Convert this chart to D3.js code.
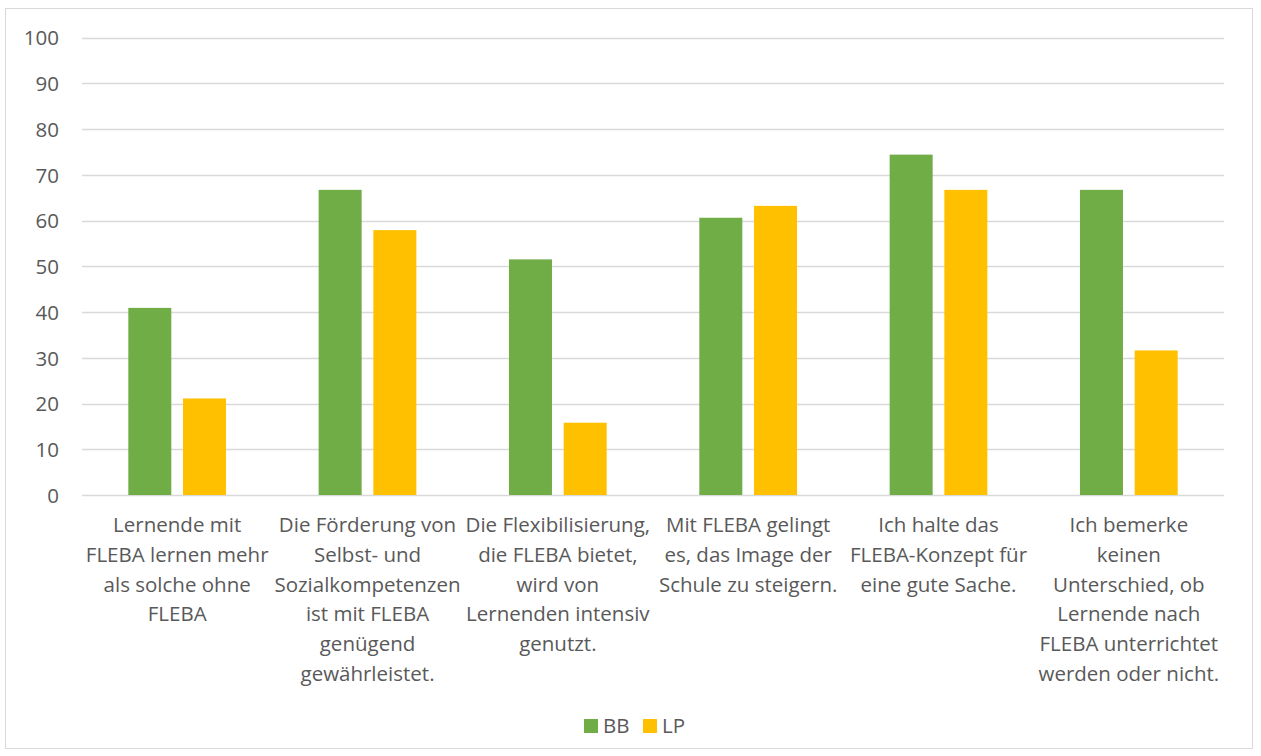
<!DOCTYPE html>
<html><head><meta charset="utf-8">
<script src="https://cdn.jsdelivr.net/npm/d3@7"></script>
<style>body{margin:0;background:#fff}svg{display:block}text{font-family:"Open Sans",sans-serif;fill:#595959}</style>
</head><body><svg id="c" width="1261" height="756"></svg>
<script>
const categories = [
  ["Lernende mit","FLEBA lernen mehr","als solche ohne","FLEBA"],
  ["Die Förderung von","Selbst- und","Sozialkompetenzen","ist mit FLEBA","genügend","gewährleistet."],
  ["Die Flexibilisierung,","die FLEBA bietet,","wird von","Lernenden intensiv","genutzt."],
  ["Mit FLEBA gelingt","es, das Image der","Schule zu steigern."],
  ["Ich halte das","FLEBA-Konzept für","eine gute Sache."],
  ["Ich bemerke","keinen","Unterschied, ob","Lernende nach","FLEBA unterrichtet","werden oder nicht."]
];
const seriesNames = ["BB","LP"];
const bbValues = [40.9, 66.7, 51.5, 60.6, 74.4, 66.7];
const lpValues = [21.1, 57.9, 15.8, 63.2, 66.7, 31.6];
const yTicks = [0,10,20,30,40,50,60,70,80,90,100];
const colors = ["#70AD47","#FFC000"];
const FONT = "'Open Sans',sans-serif";
const FS = "20.5px";

const svg = d3.select("#c");
svg.append("rect").attr("x",5.5).attr("y",8.5).attr("width",1247).attr("height",740)
  .attr("fill","#fff").attr("stroke","#D9D9D9");

const pL=82, pR=1224, pT=37.5, pB=495;
const y = d3.scaleLinear().domain([0,100]).range([pB,pT]);
const x0 = d3.scaleBand().domain(d3.range(categories.length)).range([pL,pR]).paddingInner(0).paddingOuter(0);
const x1 = d3.scaleBand().domain([0,1]).range([x0.bandwidth()/2-48.85, x0.bandwidth()/2+48.85]).paddingInner(0.214).paddingOuter(0);

svg.append("g").selectAll("line").data(yTicks).join("line")
  .attr("x1",pL).attr("x2",pR)
  .attr("y1",d=>Math.round(y(d))+0.5).attr("y2",d=>Math.round(y(d))+0.5)
  .attr("stroke","#D9D9D9").attr("stroke-width",1.3);

const yAxis = d3.axisLeft(y).tickValues(yTicks).tickSize(0).tickPadding(0);
const ya = svg.append("g").attr("transform",`translate(59,0)`).call(yAxis);
ya.select(".domain").remove();
ya.selectAll("text").style("font-size",FS).style("font-family",FONT).attr("fill","#595959").attr("dy","0.36em");

const data = categories.map((c,i)=>({i, vals:[bbValues[i], lpValues[i]]}));
const g = svg.append("g").selectAll("g").data(data).join("g")
  .attr("transform",d=>`translate(${x0(d.i)},0)`);
g.selectAll("rect").data(d=>d.vals.map((v,k)=>({v,k}))).join("rect")
  .attr("x",d=>x1(d.k)).attr("width",x1.bandwidth())
  .attr("y",d=>y(d.v)).attr("height",d=>y(0)-y(d.v))
  .attr("fill",d=>colors[d.k]);

const lab = svg.append("g").selectAll("text").data(categories).join("text")
  .attr("text-anchor","middle").style("font-size",FS)
  .attr("transform",(d,i)=>`translate(${x0(i)+x0.bandwidth()/2},532)`);
lab.selectAll("tspan").data(d=>d).join("tspan")
  .attr("x",0).attr("y",(d,j)=>j*29.8).text(d=>d);

const leg = svg.append("g").selectAll("g").data(seriesNames).join("g")
  .attr("transform",(d,i)=>`translate(${584+i*59},719)`);
leg.append("rect").attr("width",14).attr("height",14).attr("fill",(d,i)=>colors[i]);
leg.append("text").attr("x",19).attr("y",7).attr("dy","0.36em").style("font-size",FS).text(d=>d);
</script></body></html>
